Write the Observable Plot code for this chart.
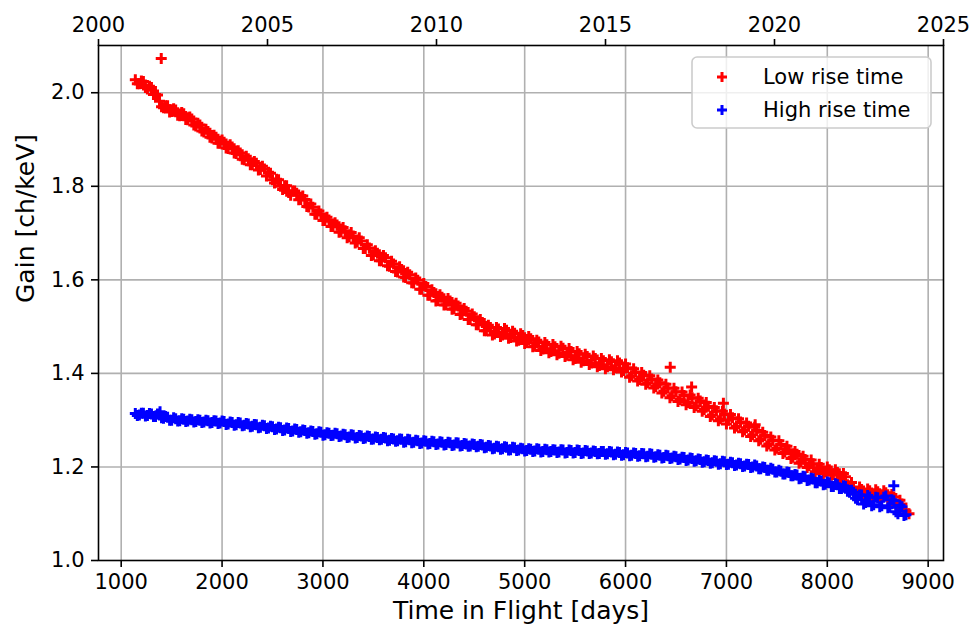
<!DOCTYPE html>
<html>
<head>
<meta charset="utf-8">
<script src="https://cdn.jsdelivr.net/npm/d3@7"></script>
<script src="https://cdn.jsdelivr.net/npm/@observablehq/plot@0.6"></script>
<style>
  html, body { margin: 0; padding: 0; background: #fff; }
  #chart svg { display: block; }
</style>
</head>
<body>
<div id="chart"></div>
<script>
// ---- data ----
const seriesNames = ["Low rise time", "High rise time"];
const seriesColors = ["#ff0000", "#0000ff"];

// readings, set A
const daysA = [
  1140,1180,1220,1260,1300,1340,1380,1420,1460,1500,
  1540,1580,1620,1660,1700,1740,1780,1820,1860,1900,
  1940,1980,2020,2060,2100,2140,2180,2220,2260,2300,
  2340,2380,2420,2460,2500,2540,2580,2620,2660,2700,
  2740,2780,2820,2860,2900,2940,2980,3020,3060,3100,
  3140,3180,3220,3260,3300,3340,3380,3420,3460,3500,
  3540,3580,3620,3660,3700,3740,3780,3820,3860,3900,
  3940,3980,4020,4060,4100,4140,4180,4220,4260,4300,
  4340,4380,4420,4460,4500,4540,4580,4620,4660,4700,
  4740,4780,4820,4860,4900,4940,4980,5020,5060,5100,
  5140,5180,5220,5260,5300,5340,5380,5420,5460,5500,
  5540,5580,5620,5660,5700,5740,5780,5820,5860,5900,
  5940,5980,6020,6060,6100,6140,6180,6220,6260,6300,
  6340,6380,6420,6460,6500,6540,6580,6620,6660,6700,
  6740,6780,6820,6860,6900,6940,6980,7020,7060,7100,
  7140,7180,7220,7260,7300,7340,7380,7420,7460,7500,
  7540,7580,7620,7660,7700,7740,7780,7820,7860,7900,
  7940,7980,8020,8060,8100,8140,8180,8220,8260,8300,
  8340,8380,8420,8460,8500,8540,8580,8620,8660,8700,
  8740,8780
];

const lowRiseA = [
  2.028,2.019,2.024,2.008,2.011,1.996,1.982,1.968,1.972,1.960,
  1.963,1.951,1.955,1.942,1.944,1.929,1.931,1.916,1.917,1.903,
  1.905,1.892,1.894,1.881,1.884,1.870,1.871,1.857,1.859,1.846,
  1.849,1.836,1.837,1.830,1.814,1.815,1.800,1.801,1.787,1.790,
  1.785,1.772,1.772,1.756,1.755,1.740,1.741,1.727,1.728,1.714,
  1.717,1.703,1.705,1.692,1.694,1.681,1.683,1.667,1.668,1.653,
  1.657,1.641,1.647,1.629,1.634,1.617,1.622,1.605,1.611,1.593,
  1.599,1.580,1.586,1.567,1.573,1.556,1.563,1.547,1.555,1.538,
  1.544,1.527,1.533,1.515,1.521,1.504,1.509,1.491,1.498,1.484,
  1.495,1.482,1.492,1.477,1.486,1.471,1.481,1.466,1.474,1.458,
  1.467,1.452,1.461,1.447,1.457,1.443,1.454,1.439,1.447,1.432,
  1.442,1.427,1.436,1.422,1.432,1.417,1.427,1.414,1.425,1.412,
  1.422,1.406,1.412,1.395,1.403,1.387,1.396,1.380,1.388,1.372,
  1.380,1.362,1.369,1.352,1.361,1.344,1.353,1.338,1.348,1.331,
  1.341,1.323,1.330,1.311,1.320,1.303,1.313,1.300,1.305,1.287,
  1.296,1.279,1.287,1.269,1.278,1.259,1.267,1.249,1.257,1.240,
  1.248,1.232,1.237,1.221,1.227,1.211,1.216,1.203,1.207,1.194,
  1.199,1.189,1.194,1.184,1.188,1.176,1.179,1.160,1.156,1.146,
  1.152,1.140,1.149,1.138,1.147,1.136,1.145,1.130,1.136,1.118,
  1.121,1.106
];

const highRiseA = [
  1.314,1.311,1.315,1.310,1.313,1.308,1.311,1.304,1.306,1.300,
  1.303,1.299,1.302,1.298,1.301,1.297,1.300,1.296,1.299,1.295,
  1.298,1.294,1.297,1.292,1.295,1.290,1.294,1.289,1.292,1.287,
  1.290,1.285,1.288,1.283,1.286,1.281,1.284,1.279,1.282,1.277,
  1.280,1.275,1.278,1.273,1.276,1.271,1.274,1.269,1.272,1.268,
  1.271,1.266,1.269,1.264,1.268,1.263,1.266,1.262,1.265,1.260,
  1.263,1.259,1.262,1.257,1.260,1.256,1.259,1.254,1.258,1.253,
  1.256,1.251,1.255,1.250,1.254,1.249,1.253,1.248,1.252,1.247,
  1.251,1.246,1.249,1.245,1.248,1.244,1.247,1.242,1.245,1.240,
  1.243,1.239,1.242,1.237,1.241,1.236,1.239,1.235,1.238,1.234,
  1.238,1.233,1.237,1.233,1.236,1.232,1.236,1.231,1.235,1.231,
  1.235,1.230,1.234,1.230,1.233,1.229,1.233,1.228,1.232,1.227,
  1.231,1.226,1.230,1.225,1.229,1.224,1.228,1.223,1.227,1.222,
  1.225,1.220,1.224,1.219,1.222,1.217,1.220,1.215,1.218,1.213,
  1.216,1.211,1.214,1.209,1.212,1.207,1.211,1.206,1.209,1.204,
  1.207,1.202,1.205,1.200,1.202,1.196,1.199,1.193,1.195,1.189,
  1.191,1.185,1.188,1.181,1.183,1.176,1.179,1.172,1.175,1.166,
  1.170,1.163,1.166,1.158,1.162,1.154,1.158,1.146,1.146,1.130,
  1.140,1.124,1.136,1.119,1.134,1.117,1.138,1.114,1.128,1.100,
  1.115,1.098
];

// readings, set B (between the set-A days)
const daysB = [
  1160,1200,1240,1280,1320,1360,1400,1440,1480,1520,
  1560,1600,1640,1680,1720,1760,1800,1840,1880,1920,
  1960,2000,2040,2080,2120,2160,2200,2240,2280,2320,
  2360,2400,2440,2480,2520,2560,2600,2640,2680,2720,
  2760,2800,2840,2880,2920,2960,3000,3040,3080,3120,
  3160,3200,3240,3280,3320,3360,3400,3440,3480,3520,
  3560,3600,3640,3680,3720,3760,3800,3840,3880,3920,
  3960,4000,4040,4080,4120,4160,4200,4240,4280,4320,
  4360,4400,4440,4480,4520,4560,4600,4640,4680,4720,
  4760,4800,4840,4880,4920,4960,5000,5040,5080,5120,
  5160,5200,5240,5280,5320,5360,5400,5440,5480,5520,
  5560,5600,5640,5680,5720,5760,5800,5840,5880,5920,
  5960,6000,6040,6080,6120,6160,6200,6240,6280,6320,
  6360,6400,6440,6480,6520,6560,6600,6640,6680,6720,
  6760,6800,6840,6880,6920,6960,7000,7040,7080,7120,
  7160,7200,7240,7280,7320,7360,7400,7440,7480,7520,
  7560,7600,7640,7680,7720,7760,7800,7840,7880,7920,
  7960,8000,8040,8080,8120,8160,8200,8240,8280,8320,
  8360,8400,8440,8480,8520,8560,8600,8640,8680,8720,
  8760
];

const lowRiseB = [
  2.019,2.025,2.011,2.014,1.996,1.995,1.970,1.972,1.959,1.966,
  1.952,1.958,1.943,1.948,1.931,1.935,1.918,1.922,1.905,1.909,
  1.892,1.899,1.882,1.889,1.871,1.876,1.858,1.864,1.846,1.853,
  1.835,1.843,1.822,1.828,1.807,1.814,1.793,1.801,1.781,1.790,
  1.771,1.779,1.757,1.762,1.740,1.747,1.727,1.734,1.714,1.722,
  1.702,1.712,1.690,1.701,1.679,1.690,1.667,1.675,1.652,1.662,
  1.641,1.652,1.630,1.640,1.618,1.628,1.606,1.616,1.594,1.604,
  1.580,1.592,1.567,1.579,1.555,1.568,1.546,1.560,1.537,1.550,
  1.526,1.539,1.515,1.527,1.504,1.515,1.491,1.503,1.482,1.498,
  1.479,1.496,1.475,1.490,1.469,1.485,1.464,1.479,1.457,1.471,
  1.449,1.466,1.444,1.462,1.440,1.458,1.436,1.453,1.429,1.447,
  1.424,1.441,1.419,1.437,1.414,1.432,1.410,1.429,1.408,1.427,
  1.403,1.420,1.392,1.410,1.384,1.402,1.377,1.395,1.369,1.386,
  1.358,1.377,1.348,1.368,1.340,1.360,1.333,1.354,1.327,1.347,
  1.319,1.338,1.308,1.327,1.299,1.319,1.292,1.312,1.283,1.303,
  1.275,1.294,1.265,1.285,1.256,1.274,1.245,1.264,1.236,1.256,
  1.229,1.244,1.218,1.233,1.208,1.223,1.199,1.215,1.190,1.206,
  1.186,1.200,1.182,1.194,1.174,1.186,1.162,1.167,1.143,1.157,
  1.139,1.153,1.136,1.151,1.134,1.149,1.130,1.141,1.119,1.129,
  1.108
];

const highRiseB = [
  1.310,1.315,1.309,1.314,1.308,1.313,1.305,1.308,1.300,1.305,
  1.298,1.303,1.297,1.302,1.296,1.301,1.295,1.300,1.294,1.299,
  1.293,1.298,1.291,1.296,1.289,1.295,1.288,1.293,1.286,1.291,
  1.284,1.289,1.282,1.287,1.280,1.285,1.278,1.283,1.276,1.281,
  1.274,1.279,1.272,1.277,1.270,1.275,1.268,1.273,1.267,1.272,
  1.265,1.270,1.263,1.269,1.262,1.267,1.261,1.266,1.259,1.264,
  1.258,1.263,1.256,1.261,1.255,1.260,1.253,1.259,1.252,1.257,
  1.250,1.256,1.249,1.255,1.248,1.254,1.247,1.253,1.246,1.252,
  1.245,1.250,1.244,1.249,1.243,1.248,1.241,1.246,1.239,1.244,
  1.238,1.243,1.236,1.242,1.235,1.240,1.234,1.239,1.233,1.239,
  1.232,1.238,1.232,1.237,1.231,1.237,1.230,1.236,1.230,1.236,
  1.229,1.235,1.229,1.234,1.228,1.233,1.227,1.233,1.226,1.232,
  1.225,1.231,1.224,1.230,1.223,1.229,1.222,1.228,1.221,1.226,
  1.219,1.225,1.218,1.223,1.216,1.221,1.214,1.219,1.212,1.217,
  1.210,1.215,1.208,1.213,1.206,1.212,1.205,1.210,1.203,1.208,
  1.201,1.206,1.199,1.204,1.196,1.200,1.193,1.197,1.189,1.193,
  1.185,1.189,1.181,1.184,1.175,1.180,1.171,1.176,1.166,1.171,
  1.162,1.168,1.158,1.164,1.154,1.160,1.148,1.150,1.133,1.140,
  1.121,1.139,1.117,1.135,1.115,1.135,1.113,1.130,1.104,1.118,
  1.096
];

// isolated outlying points
const lowExtraDays = [1397, 6443, 6655, 6970, 7285, 8810];
const lowExtraGain = [2.073, 1.413, 1.371, 1.336, 1.290, 1.100];
const highExtraDays = [1385, 8659];
const highExtraGain = [1.318, 1.160];

// axes
const dayTicks = [1000,2000,3000,4000,5000,6000,7000,8000,9000];
const gainTicks = [1.0,1.2,1.4,1.6,1.8,2.0];
const yearTicks = [2000,2005,2010,2015,2020,2025];
const xDomain = [775, 9152];
const yDomain = [1.0, 2.101];
const xLabel = "Time in Flight [days]";
const yLabel = "Gain [ch/keV]";

// ---- build tables ----
const toRows = (ds, gs) => ds.map((d, i) => ({day: d, gain: gs[i]}));
const lowRise = [...toRows(daysA, lowRiseA), ...toRows(daysB, lowRiseB), ...toRows(lowExtraDays, lowExtraGain)];
const highRise = [...toRows(daysA, highRiseA), ...toRows(daysB, highRiseB), ...toRows(highExtraDays, highExtraGain)];

const yearToDay = d3.scaleLinear().domain([yearTicks[0], yearTicks[yearTicks.length - 1]]).range(xDomain);

// matplotlib-like "+" marker: arm half-length equals r
const plusMarker = {
  draw(context, size) {
    const h = Math.sqrt(size / Math.PI);
    context.moveTo(-h, 0); context.lineTo(h, 0);
    context.moveTo(0, -h); context.lineTo(0, h);
  }
};

const font = "DejaVu Sans, Liberation Sans, sans-serif";
const gridStyle = {stroke: "#b0b0b0", strokeOpacity: 1, strokeWidth: 1.6};
const axisCommon = {tickSize: 7, tickPadding: 7, fontSize: 21, label: null, strokeWidth: 1.6, stroke: "#000"};
const markerR = 5.5, markerW = 3;

const chart = Plot.plot({
  width: 975,
  height: 629,
  marginLeft: 98,
  marginRight: 32,
  marginTop: 45,
  marginBottom: 69,
  style: {fontFamily: font, color: "#000", background: "#fff", overflow: "visible"},
  x: {domain: xDomain},
  y: {domain: yDomain},
  marks: [
    Plot.gridX(dayTicks, gridStyle),
    Plot.gridY(gainTicks.filter(t => t > yDomain[0]), gridStyle),
    Plot.dot(lowRise, {x: "day", y: "gain", symbol: plusMarker, r: markerR, fill: "none", stroke: seriesColors[0], strokeWidth: markerW}),
    Plot.dot(highRise, {x: "day", y: "gain", symbol: plusMarker, r: markerR, fill: "none", stroke: seriesColors[1], strokeWidth: markerW}),
    Plot.frame({stroke: "#000", strokeWidth: 1.6}),
    Plot.axisX(dayTicks, {...axisCommon, anchor: "bottom", tickFormat: d => String(d)}),
    Plot.axisX(yearTicks.map(yearToDay), {...axisCommon, anchor: "top", tickFormat: d => String(Math.round(yearToDay.invert(d)))}),
    Plot.axisY(gainTicks, {...axisCommon, anchor: "left", tickFormat: d => d.toFixed(1)}),
    Plot.text([xLabel], {frameAnchor: "bottom", dy: 50, fontSize: 25, lineAnchor: "middle", fill: "#000"}),
    Plot.text([yLabel], {frameAnchor: "left", dx: -73, rotate: -90, fontSize: 25, lineAnchor: "middle", fill: "#000"})
  ]
});

document.getElementById("chart").appendChild(chart);

// ---- legend (inside the frame, upper right) ----
(function () {
  const svg = d3.select(chart);
  const frameRight = 975 - 32, frameTop = 45;
  const boxW = 239, boxH = 71;
  const bx = frameRight - 12 - boxW, by = frameTop + 12;
  const g = svg.append("g").attr("font-family", font).attr("text-anchor", "start");
  g.append("rect")
    .attr("x", bx).attr("y", by).attr("width", boxW).attr("height", boxH)
    .attr("rx", 5).attr("ry", 5)
    .attr("fill", "#fff").attr("fill-opacity", 0.8)
    .attr("stroke", "#cccccc").attr("stroke-width", 1.6);
  const plus = d3.symbol(plusMarker, Math.PI * 5 * 5)();
  seriesNames.forEach((name, i) => {
    const cy = by + 20 + i * 33;
    g.append("path").attr("d", plus)
      .attr("transform", `translate(${bx + 30},${cy})`)
      .attr("fill", "none").attr("stroke", seriesColors[i]).attr("stroke-width", markerW);
    g.append("text").attr("x", bx + 71).attr("y", cy).attr("dy", "0.35em")
      .attr("text-anchor", "start")
      .attr("font-size", 21).attr("fill", "#000").text(name);
  });
})();
</script>
</body>
</html>
